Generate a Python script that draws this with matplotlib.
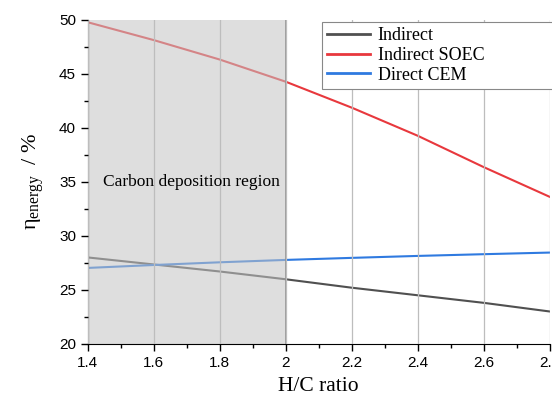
import matplotlib.pyplot as plt
import numpy as np

plt.rcParams['font.family'] = 'Liberation Sans'
plt.rcParams['mathtext.fontset'] = 'custom'
plt.rcParams['mathtext.rm'] = 'Liberation Serif'
plt.rcParams['mathtext.it'] = 'Liberation Serif:italic'

# data
hc = [1.4, 1.6, 1.8, 2.0, 2.2, 2.4, 2.6, 2.8]
indirect = [28.0, 27.35, 26.7, 25.98, 25.2, 24.5, 23.8, 23.0]
indirect_soec = [49.75, 48.1, 46.3, 44.25, 41.85, 39.25, 36.35, 33.6]
direct_cem = [27.03, 27.3, 27.55, 27.77, 27.96, 28.14, 28.3, 28.45]

fig = plt.figure(figsize=(5.52, 3.99), dpi=100)
ax = fig.add_axes([0.159, 0.138, 0.837, 0.813])

ax.plot(hc, indirect, color='#505050', lw=1.5, label='Indirect', zorder=2)
ax.plot(hc, indirect_soec, color='#e8383d', lw=1.5, label='Indirect SOEC', zorder=2)
ax.plot(hc, direct_cem, color='#2f7ae0', lw=1.5, label='Direct CEM', zorder=2)

# carbon deposition region drawn over the lines
ax.axvspan(1.4, 2.0, facecolor='#c4c4c4', alpha=0.55, lw=0, zorder=2.3)
ax.axvline(2.0, color='#909090', lw=1.2, zorder=2.4)
ax.text(1.715, 35, 'Carbon deposition region', family='Liberation Serif',
        fontsize=12.5, ha='center', va='center', zorder=3)

ax.set_xlim(1.4, 2.8)
ax.set_ylim(20, 50)
ax.set_xticks(np.arange(1.4, 2.81, 0.2))
ax.set_xticklabels(['1.4', '1.6', '1.8', '2', '2.2', '2.4', '2.6', '2.8'])
ax.set_xticks(np.arange(1.4, 2.81, 0.1), minor=True)
ax.set_yticks(np.arange(20, 51, 5))
ax.set_yticks(np.arange(20, 51, 2.5), minor=True)
ax.tick_params(which='major', direction='out', length=5, width=1, labelsize=11)
ax.tick_params(which='minor', direction='out', length=3, width=1)
ax.grid(axis='x', which='major', color='#bdbdbd', lw=0.9)
ax.set_axisbelow(False)
for s in ['top', 'right']:
    ax.spines[s].set_visible(False)

ax.set_xlabel('H/C ratio', family='Liberation Serif', fontsize=15.5, labelpad=5)
ax.set_ylabel(r'$\mathrm{\eta_{energy}}$  / %', family='Liberation Serif',
              fontsize=16, labelpad=9)

leg = ax.legend(loc='upper left', bbox_to_anchor=(0.506, 0.993, 0.6, 0),
                mode='expand', fancybox=False, edgecolor='#888888',
                framealpha=1, handlelength=2.4, handletextpad=0.4,
                labelspacing=0.15, borderpad=0.3, borderaxespad=0,
                prop={'family': 'Liberation Serif', 'size': 13})
leg.get_frame().set_linewidth(0.8)
for line in leg.get_lines():
    line.set_linewidth(2)

fig.savefig('out.png', dpi=100)
